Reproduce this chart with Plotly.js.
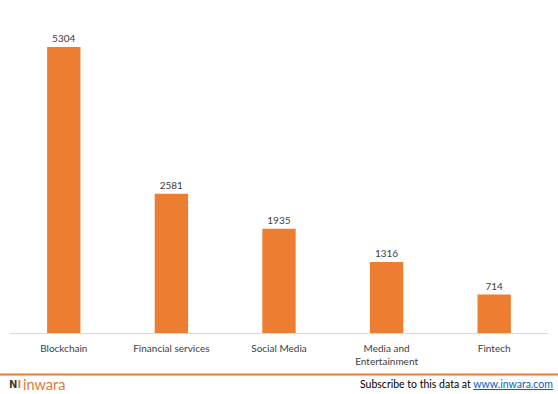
<!DOCTYPE html>
<html>
<head>
<meta charset="utf-8">
<script src="https://cdn.plot.ly/plotly-3.0.1.min.js"></script>
<style>html,body{margin:0;padding:0;background:#fff;}#chart{width:558px;height:394px;}</style>
</head>
<body>
<div id="chart"></div>
<script>
var categories = ["Blockchain", "Financial services", "Social Media", "Media and<br>Entertainment", "Fintech"];
var values = [5304, 2581, 1935, 1316, 714];
var barColor = "#ED7D31";

var trace = {
  type: "bar",
  x: categories,
  y: values,
  marker: {color: barColor},
  text: values.map(String),
  textposition: "outside",
  cliponaxis: false,
  textfont: {family: "Lato, sans-serif", size: 10, color: "#404040"},
  hoverinfo: "none"
};

var layout = {
  width: 558, height: 394,
  margin: {l: 10, r: 10, t: 20, b: 61},
  paper_bgcolor: "#ffffff",
  plot_bgcolor: "#ffffff",
  bargap: 0.69,
  showlegend: false,
  font: {family: "Lato, sans-serif", size: 10, color: "#404040"},
  xaxis: {
    showline: true, linecolor: "#d9d9d9", linewidth: 1,
    ticks: "", ticklabelstandoff: 6,
    tickfont: {family: "Lato, sans-serif", size: 10, color: "#404040"},
    showgrid: false, zeroline: false, fixedrange: true
  },
  yaxis: {
    range: [0, 5806], visible: false, showgrid: false, zeroline: false, fixedrange: true
  },
  shapes: [{
    type: "line", xref: "paper", yref: "paper",
    x0: -0.02, x1: 1.02,
    y0: (394 - 374.5 - 61) / 313, y1: (394 - 374.5 - 61) / 313,
    line: {color: "#ED7D31", width: 2}
  }],
  annotations: [
    {
      xref: "paper", yref: "paper", x: -0.005, y: (394 - 384 - 61) / 313,
      xanchor: "left", yanchor: "middle", showarrow: false,
      text: "<b>N</b><span style='color:#ED7D31'><b>I</b></span>",
      font: {family: "DejaVu Sans, sans-serif", size: 10, color: "#3a3a3a"}
    },
    {
      xref: "paper", yref: "paper", x: 0.02, y: (394 - 384 - 61) / 313,
      xanchor: "left", yanchor: "middle", showarrow: false,
      text: "inwara",
      font: {family: "Lato, sans-serif", size: 14.5, color: "#E07B39"}
    },
    {
      xref: "paper", yref: "paper", x: 1.013, y: (394 - 384 - 61) / 313,
      xanchor: "right", yanchor: "middle", showarrow: false,
      text: "Subscribe to this data at <span style='color:#0563C1'><u>www.inwara.com</u></span>",
      font: {family: "Lato, sans-serif", size: 10.5, color: "#000000"}
    }
  ]
};

Plotly.newPlot("chart", [trace], layout, {displayModeBar: false, staticPlot: true});
</script>
</body>
</html>
